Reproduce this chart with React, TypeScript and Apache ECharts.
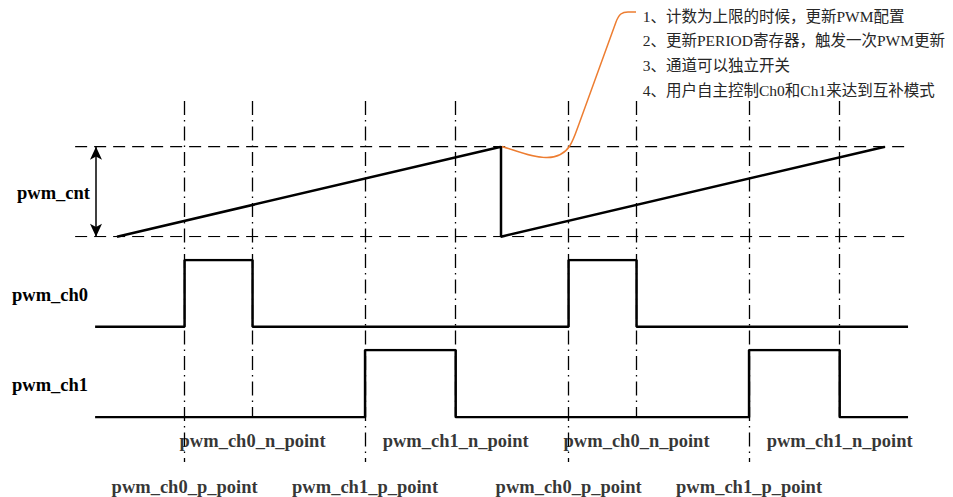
import React, { useEffect, useRef } from "react";
import * as echarts from "echarts";

// ---- data ----
const periodIndex = [0, 1];
const periodLength = 100;
const cntTimes = [0, 100, 100, 200];
const cntValues = [0, 100, 0, 100];
const refValues = [100, 0];
const refLabels = ["limit", "0"];
const refSpan = [-10.9, 205.2];
const waveSpan = [-5.7, 206];
const ch0Compare = [17.6, 35.3]; // p_point, n_point
const ch1Compare = [64.6, 88.2]; // p_point, n_point
const pPointLabels = ["pwm_ch0_p_point", "pwm_ch1_p_point"];
const nPointLabels = ["pwm_ch0_n_point", "pwm_ch1_n_point"];
const signalNames = ["pwm_cnt", "pwm_ch0", "pwm_ch1"];
const arrowTime = -5.47;
const notes = [
  "1、计数为上限的时候，更新PWM配置",
  "2、更新PERIOD寄存器，触发一次PWM更新",
  "3、通道可以独立开关",
  "4、用户自主控制Ch0和Ch1来达到互补模式",
];

// ---- layout (pixels) ----
const W = 953;
const H = 497;
const X_MIN = -12;
const X_MAX = 210;
const GRID_LEFT = 70.92;
const GRID_RIGHT = 29.6;
const guideTop = 101;
const pGuideBottom = 462;
const nGuideBottom = 416;
const nLabelY = 440.7;
const pLabelY = 487;
const signalLabelPos = [
  [17, 193],
  [12, 295],
  [12, 385],
];
const noteX = 642.7;
const noteY0 = 16;
const noteStep = 24.8;

const CALLOUT_D =
  "M502,146.5 C520,152 534,158 547,157.6 C559,157.2 566,152 570,145.5 C574,139 576,132 579,124 L616,22 C619,14 622,12 628,12 L636,12";
echarts.graphic.registerShape("callout", echarts.graphic.extendPath(CALLOUT_D, {}));

const SERIF = '"Liberation Serif", "Times New Roman", serif';
const boldLabel = {
  fontFamily: SERIF,
  fontWeight: "bold" as const,
  fontSize: 18.5,
  color: "#000",
};

function buildWave(compare: number[]) {
  const pts: number[][] = [[waveSpan[0], 0]];
  periodIndex.forEach((k) => {
    pts.push([k * periodLength + compare[0], 1]);
    pts.push([k * periodLength + compare[1], 0]);
  });
  pts.push([waveSpan[1], 0]);
  return pts;
}

export default function App() {
  const ref = useRef<HTMLDivElement>(null);
  useEffect(() => {
    if (!ref.current) return;
    const chart = echarts.init(ref.current, undefined, { renderer: "svg" });

    const grids = [
      { top: 146.7, height: 90 },
      { top: 260, height: 66.7 },
      { top: 350, height: 67.3 },
      { top: 0, height: H },
    ].map((g) => ({ ...g, left: GRID_LEFT, right: GRID_RIGHT, containLabel: false }));

    const xAxes = grids.map((_, i) => ({
      type: "value" as const,
      gridIndex: i,
      min: X_MIN,
      max: X_MAX,
      show: false,
    }));
    const yAxes = [
      { type: "value" as const, gridIndex: 0, min: 0, max: 100, show: false },
      { type: "value" as const, gridIndex: 1, min: 0, max: 1, show: false },
      { type: "value" as const, gridIndex: 2, min: 0, max: 1, show: false },
      { type: "value" as const, gridIndex: 3, min: 0, max: H, inverse: true, show: false },
    ];

    const guides: any[] = [];
    const pointLabels: any[] = [];
    periodIndex.forEach((k) => {
      [ch0Compare, ch1Compare].forEach((cmp, ci) => {
        const tp = k * periodLength + cmp[0];
        const tn = k * periodLength + cmp[1];
        guides.push({ coords: [[tp, guideTop], [tp, pGuideBottom]] });
        guides.push({ coords: [[tn, guideTop], [tn, nGuideBottom]] });
        pointLabels.push({ value: [tp, pLabelY], name: pPointLabels[ci] });
        pointLabels.push({ value: [tn, nLabelY], name: nPointLabels[ci] });
      });
    });

    const refSeries = refValues.map((v, i) => ({
      type: "line" as const,
      xAxisIndex: 0,
      yAxisIndex: 0,
      silent: true,
      symbol: "none",
      lineStyle: { color: "#000", width: 1.3, type: [12, 7] },
      data: [
        [refSpan[0], v],
        {
          value: [refSpan[1], v],
          label: {
            show: true,
            position: "right",
            distance: 7,
            formatter: refLabels[i],
            ...boldLabel,
          },
        },
      ],
      z: 1,
    }));

    const option: any = {
      animation: false,
      backgroundColor: "#fff",
      grid: grids,
      xAxis: xAxes,
      yAxis: yAxes,
      series: [
        ...refSeries,
        {
          type: "lines",
          coordinateSystem: "cartesian2d",
          xAxisIndex: 3,
          yAxisIndex: 3,
          silent: true,
          lineStyle: { color: "#000", width: 1.3, type: [14, 5, 1.5, 5], opacity: 1 },
          data: guides,
          z: 1,
        },
        {
          type: "line",
          xAxisIndex: 0,
          yAxisIndex: 0,
          silent: true,
          symbol: "none",
          lineStyle: { color: "#000", width: 2.5 },
          data: cntTimes.map((t, i) => [t, cntValues[i]]),
          markLine: {
            silent: true,
            symbol: ["arrow", "arrow"],
            symbolSize: [9, 13],
            label: { show: false },
            lineStyle: { color: "#000", width: 1.5, type: "solid" },
            data: [[{ coord: [arrowTime, 0] }, { coord: [arrowTime, 100] }]],
          },
          z: 3,
        },
        {
          type: "line",
          xAxisIndex: 1,
          yAxisIndex: 1,
          silent: true,
          symbol: "none",
          step: "end",
          lineStyle: { color: "#000", width: 2.5 },
          data: buildWave(ch0Compare),
          z: 3,
        },
        {
          type: "line",
          xAxisIndex: 2,
          yAxisIndex: 2,
          silent: true,
          symbol: "none",
          step: "end",
          lineStyle: { color: "#000", width: 2.5 },
          data: buildWave(ch1Compare),
          z: 3,
        },
        {
          type: "scatter",
          xAxisIndex: 3,
          yAxisIndex: 3,
          silent: true,
          symbolSize: 0,
          label: { show: true, position: "inside", formatter: "{b}", ...boldLabel },
          data: pointLabels,
          z: 4,
        },
      ],
      graphic: [
        ...signalNames.map((n, i) => ({
          type: "text",
          x: signalLabelPos[i][0],
          y: signalLabelPos[i][1],
          silent: true,
          style: {
            text: n,
            fill: "#000",
            font: `bold 18.5px ${SERIF}`,
            textAlign: "left",
            textVerticalAlign: "middle",
            align: "left",
            verticalAlign: "middle",
          },
        })),
        ...notes.map((t, i) => ({
          type: "text",
          x: noteX,
          y: noteY0 + i * noteStep,
          silent: true,
          style: {
            text: t,
            fill: "#262626",
            font: `15.5px "Liberation Serif", "Noto Sans CJK SC", serif`,
            textAlign: "left",
            textVerticalAlign: "middle",
            align: "left",
            verticalAlign: "middle",
          },
        })),
        {
          type: "callout",
          x: 0,
          y: 0,
          silent: true,
          style: { stroke: "#ED7D31", fill: "none", lineWidth: 1.5 },
          z: 10,
        },
      ],
    };
    chart.setOption(option);
    return () => chart.dispose();
  }, []);
  return (
    <div
      ref={ref}
      style={{ position: "fixed", left: 0, top: 0, width: W, height: H, background: "#fff" }}
    />
  );
}
